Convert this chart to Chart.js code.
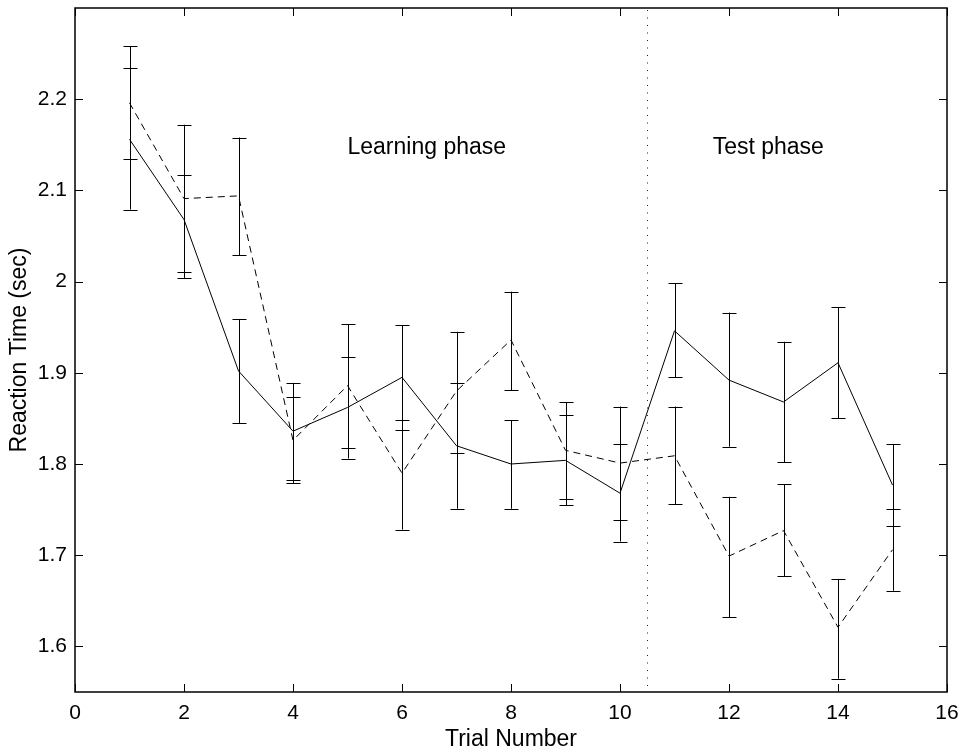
<!DOCTYPE html>
<html>
<head>
<meta charset="utf-8">
<script src="https://cdn.jsdelivr.net/npm/chart.js@4.4.1/dist/chart.umd.min.js"></script>
<style>
html,body{margin:0;padding:0;background:#fff;}
#wrap{width:965px;height:753px;}
</style>
</head>
<body>
<div id="wrap"><canvas id="c" width="965" height="753"></canvas></div>
<script>
// ---- data ----
const trials = [1,2,3,4,5,6,7,8,9,10,11,12,13,14,15];
const solidMean = [2.156,2.068,1.902,1.836,1.862,1.895,1.820,1.800,1.804,1.768,1.946,1.892,1.868,1.911,1.777];
const solidLow  = [2.079,2.004,1.845,1.782,1.806,1.837,1.751,1.751,1.755,1.715,1.895,1.819,1.802,1.850,1.732];
const solidHigh = [2.234,2.117,1.959,1.889,1.917,1.952,1.889,1.848,1.854,1.822,1.998,1.966,1.934,1.972,1.822];
const dashedMean = [2.196,2.091,2.094,1.826,1.886,1.790,1.880,1.936,1.815,1.801,1.809,1.699,1.727,1.621,1.706];
const dashedLow  = [2.134,2.011,2.029,1.779,1.818,1.728,1.8125,1.881,1.762,1.739,1.756,1.632,1.677,1.5645,1.661];
const dashedHigh = [2.258,2.172,2.158,1.873,1.953,1.848,1.945,1.989,1.868,1.863,1.863,1.764,1.778,1.674,1.751];
const xTicks = [0,2,4,6,8,10,12,14,16];
const xTickLabels = ['0','2','4','6','8','10','12','14','16'];
const yTicks = [1.6,1.7,1.8,1.9,2.0,2.1,2.2];
const yTickLabels = ['1.6','1.7','1.8','1.9','2','2.1','2.2'];
const phaseBoundary = 10.5;
const annotations = [
  {text:'Learning phase', x:5, y:2.147},
  {text:'Test phase', x:11.7, y:2.147}
];

const FONT = "'Liberation Sans', Arial, Helvetica, sans-serif";
const FS = 21;
const FS_TEXT = 23;

const overlay = {
  id:'overlay',
  afterDatasetsDraw(chart){
    const ctx = chart.ctx;
    const xs = chart.scales.x, ys = chart.scales.y;
    const a = chart.chartArea;
    ctx.save();
    // error bars
    ctx.strokeStyle = '#000';
    ctx.lineWidth = 1;
    ctx.setLineDash([]);
    const cap = 7;
    const drawBars = (lo, hi) => {
      trials.forEach((t,i)=>{
        const px = Math.round(xs.getPixelForValue(t)) + 0.5;
        const p1 = ys.getPixelForValue(lo[i]);
        const p2 = ys.getPixelForValue(hi[i]);
        ctx.beginPath();
        ctx.moveTo(px, p1); ctx.lineTo(px, p2);
        ctx.moveTo(px-cap, Math.round(p1)+0.5); ctx.lineTo(px+cap, Math.round(p1)+0.5);
        ctx.moveTo(px-cap, Math.round(p2)+0.5); ctx.lineTo(px+cap, Math.round(p2)+0.5);
        ctx.stroke();
      });
    };
    drawBars(solidLow, solidHigh);
    drawBars(dashedLow, dashedHigh);
    // phase boundary dotted line
    const bx = Math.round(xs.getPixelForValue(phaseBoundary)) + 0.5;
    ctx.strokeStyle = '#222';
    ctx.setLineDash([1,6.5]);
    ctx.beginPath();
    ctx.moveTo(bx, a.top+2); ctx.lineTo(bx, a.bottom);
    ctx.stroke();
    ctx.setLineDash([]);
    // annotations
    ctx.fillStyle = '#000';
    ctx.font = FS_TEXT + 'px ' + FONT;
    ctx.textAlign = 'left';
    ctx.textBaseline = 'middle';
    annotations.forEach(an=>{
      ctx.fillText(an.text, xs.getPixelForValue(an.x), ys.getPixelForValue(an.y));
    });
    // axes box
    ctx.strokeStyle = '#000';
    ctx.lineWidth = 1.5;
    ctx.strokeRect(a.left, a.top, a.right-a.left, a.bottom-a.top);
    // inward ticks
    ctx.lineWidth = 1;
    const tl = 8;
    ctx.beginPath();
    xTicks.forEach(v=>{
      const px = Math.round(xs.getPixelForValue(v)) + 0.5;
      ctx.moveTo(px, a.bottom); ctx.lineTo(px, a.bottom-tl);
      ctx.moveTo(px, a.top); ctx.lineTo(px, a.top+tl);
    });
    yTicks.forEach(v=>{
      const py = Math.round(ys.getPixelForValue(v)) + 0.5;
      ctx.moveTo(a.left, py); ctx.lineTo(a.left+tl, py);
      ctx.moveTo(a.right, py); ctx.lineTo(a.right-tl, py);
    });
    ctx.stroke();
    ctx.restore();
  }
};

new Chart(document.getElementById('c'), {
  type:'line',
  data:{
    datasets:[
      {data: trials.map((t,i)=>({x:t, y:solidMean[i]})), borderColor:'#000', borderWidth:1, pointRadius:0, tension:0, fill:false},
      {data: trials.map((t,i)=>({x:t, y:dashedMean[i]})), borderColor:'#000', borderWidth:1, borderDash:[7,5], pointRadius:0, tension:0, fill:false}
    ]
  },
  options:{
    responsive:false,
    animation:false,
    devicePixelRatio:1,
    layout:{padding:{top:8, right:18, left:0, bottom:0}},
    plugins:{legend:{display:false}, tooltip:{enabled:false}},
    scales:{
      x:{
        type:'linear', min:0, max:16,
        afterBuildTicks: s => { s.ticks = xTicks.map(v=>({value:v})); },
        afterFit: s => { s.height = 61; s.paddingLeft = 0; s.paddingRight = 0; },
        grid:{display:false, drawTicks:false},
        border:{display:false},
        ticks:{padding:9, color:'#000', font:{family:FONT, size:FS}, maxRotation:0, autoSkip:false,
               callback:(v,i)=>xTickLabels[i]},
        title:{display:true, text:'Trial Number', color:'#000', font:{family:FONT, size:FS_TEXT}, padding:{top:0, bottom:0}}
      },
      y:{
        type:'linear', min:1.55, max:2.3,
        afterBuildTicks: s => { s.ticks = yTicks.map(v=>({value:v})); },
        afterFit: s => { s.width = 75; s.paddingTop = 0; s.paddingBottom = 0; },
        grid:{display:false, drawTicks:false},
        border:{display:false},
        ticks:{padding:8, color:'#000', font:{family:FONT, size:FS}, autoSkip:false,
               callback:(v,i)=>yTickLabels[i]},
        title:{display:true, text:'Reaction Time (sec)', color:'#000', font:{family:FONT, size:FS_TEXT}, padding:{top:6, bottom:0}}
      }
    }
  },
  plugins:[overlay]
});
</script>
</body>
</html>
